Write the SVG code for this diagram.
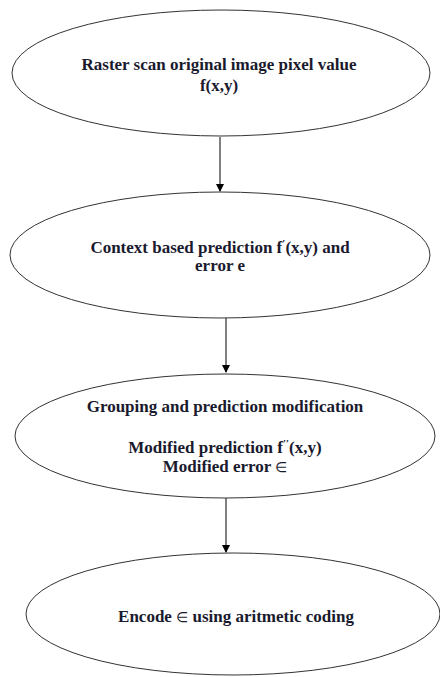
<svg xmlns="http://www.w3.org/2000/svg" width="440" height="677" viewBox="0 0 440 677">
<style>
.node ellipse{fill:#fff;stroke:#333;stroke-width:1}
text{font-family:"Liberation Serif","Times New Roman",serif;font-weight:bold;font-size:17px;fill:#1a1a2e;text-anchor:middle}
.sup{font-size:11px}
.el{font-size:14px;font-weight:normal}
.conn line{stroke:#000;stroke-width:1}
</style>
<defs>
<marker id="arr" markerWidth="8" markerHeight="10" refX="7" refY="4" orient="auto" markerUnits="userSpaceOnUse">
<path d="M0,0 L8,4 L0,8 z" fill="#000"/>
</marker>
</defs>
<rect width="440" height="677" fill="#fff"/>
<g class="conn">
<line x1="220" y1="137" x2="220" y2="191" marker-end="url(#arr)"/>
<line x1="226" y1="318" x2="226" y2="372" marker-end="url(#arr)"/>
<line x1="226" y1="498" x2="226" y2="552" marker-end="url(#arr)"/>
</g>
<g id="n1" class="node">
<ellipse cx="221" cy="73" rx="209" ry="63"/>
<text x="219" y="70">Raster scan original image pixel value</text>
<text x="219" y="91">f(x,y)</text>
</g>
<g id="n2" class="node">
<ellipse cx="220" cy="255" rx="210" ry="63"/>
<text x="220" y="253">Context based prediction f<tspan class="sup" dy="-6">′</tspan><tspan dy="6">(x,y) and</tspan></text>
<text x="220" y="271">error e</text>
</g>
<g id="n3" class="node">
<ellipse cx="225" cy="436" rx="210" ry="62"/>
<text x="225" y="412">Grouping and prediction modification</text>
<text x="225" y="453">Modified prediction f<tspan class="sup" dy="-6">′′</tspan><tspan dy="6">(x,y)</tspan></text>
<text x="225" y="472">Modified error <tspan class="el">∈</tspan></text>
</g>
<g id="n4" class="node">
<ellipse cx="233" cy="614" rx="207" ry="61"/>
<text x="236" y="622">Encode <tspan class="el">∈</tspan> using aritmetic coding</text>
</g>
</svg>
